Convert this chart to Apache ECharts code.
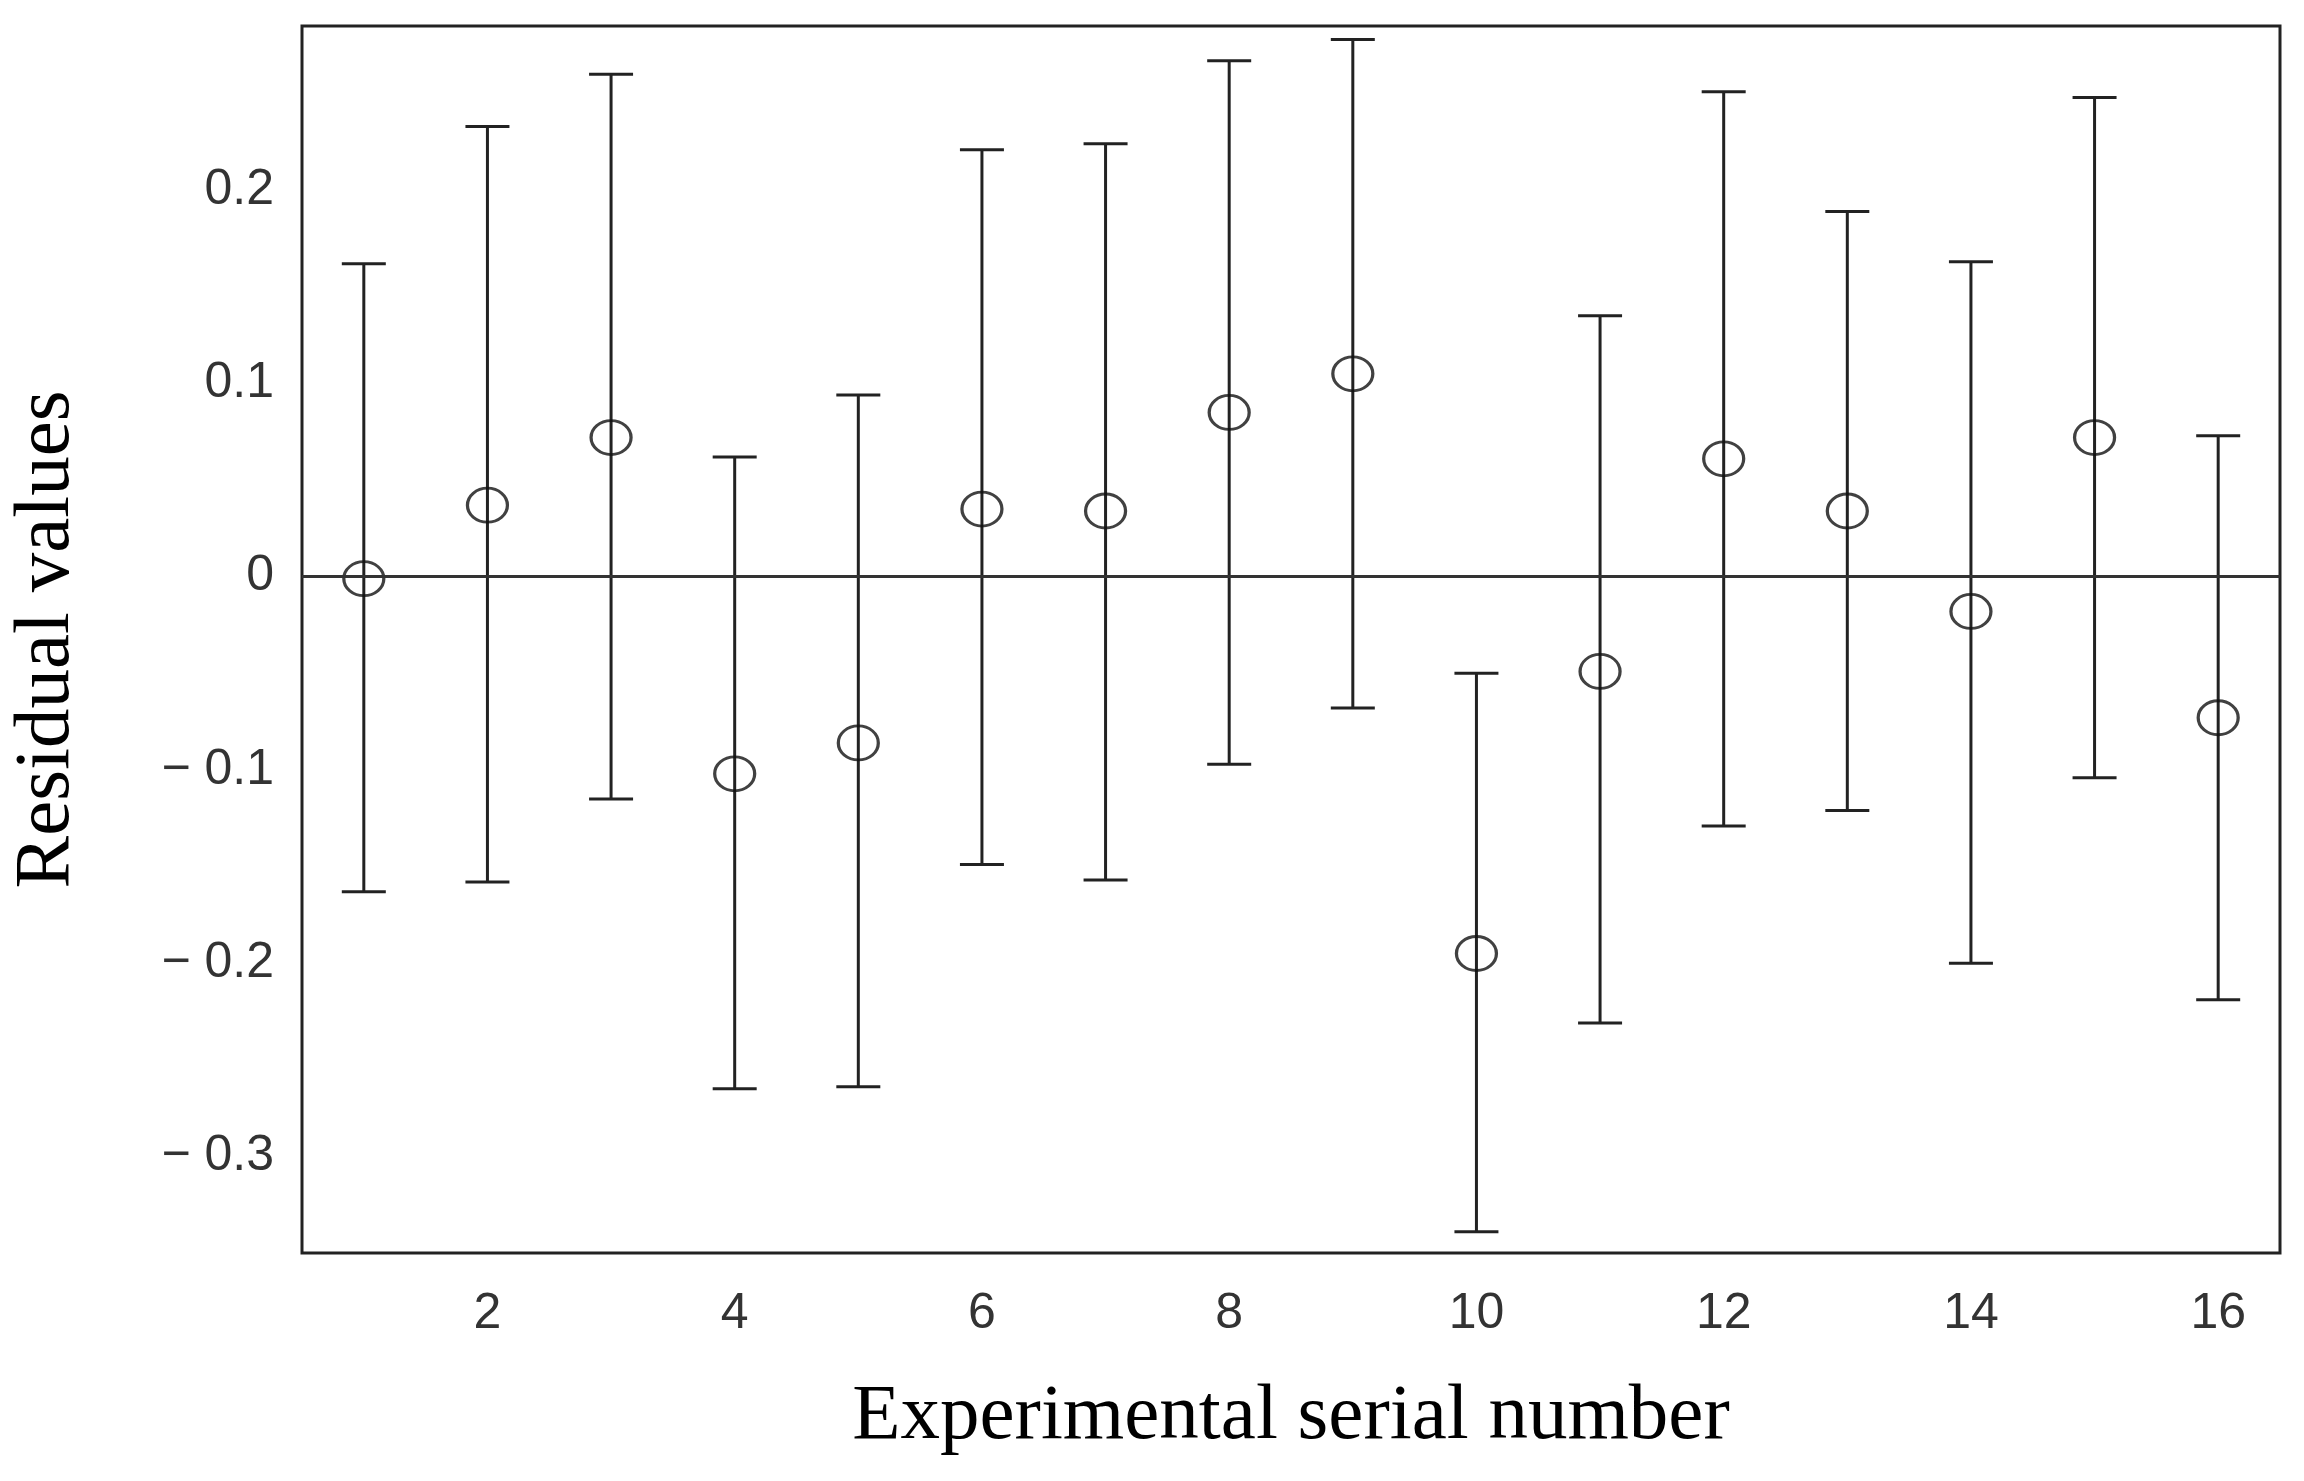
<!DOCTYPE html>
<html><head><meta charset="utf-8">
<script src="https://cdn.jsdelivr.net/npm/echarts@6/dist/echarts.min.js"></script>
<style>html,body{margin:0;padding:0;background:#fff}#c{width:2304px;height:1481px}</style>
</head><body><div id="c"></div>
<script>
const experiments = [1,2,3,4,5,6,7,8,9,10,11,12,13,14,15,16];
const residuals = [-0.001,0.037,0.072,-0.102,-0.086,0.035,0.034,0.085,0.105,-0.195,-0.049,0.061,0.034,-0.018,0.072,-0.073];
const upperCI = [0.162,0.233,0.260,0.062,0.094,0.221,0.224,0.267,0.278,-0.050,0.135,0.251,0.189,0.163,0.248,0.073];
const lowerCI = [-0.163,-0.158,-0.115,-0.265,-0.264,-0.149,-0.157,-0.097,-0.068,-0.339,-0.231,-0.129,-0.121,-0.200,-0.104,-0.219];

const chart = echarts.init(document.getElementById('c'));
const errData = experiments.map((x,i)=>[x, lowerCI[i], upperCI[i]]);
chart.setOption({
  animation:false,
  grid:{left:301,right:24,top:26,bottom:228,show:true,borderColor:'#222',borderWidth:3,backgroundColor:'transparent'},
  xAxis:{type:'value',min:0.5,max:16.5,interval:0.5,
    axisLine:{show:false},axisTick:{show:false},splitLine:{show:false},
    axisLabel:{margin:36,fontSize:50,color:'#333',fontFamily:'Liberation Sans',
      formatter:v=>{const r=Math.round(v*2);return (r%4===0&&r>0)?String(r/2):'';}},
    name:'Experimental serial number',nameLocation:'middle',nameGap:125,
    nameTextStyle:{fontFamily:'Liberation Serif',fontSize:79,color:'#000'}},
  yAxis:{type:'value',min:-0.35,max:0.285,interval:0.05,
    axisLine:{show:false},axisTick:{show:false},splitLine:{show:false},
    axisLabel:{margin:28,fontSize:50,color:'#333',fontFamily:'Liberation Sans',showMaxLabel:false,
      formatter:v=>{const r=Math.round(v*100);if(r%10!==0)return '';const t=Math.abs(r/100).toString();return r<0?'\u2212 '+t:t;}},
    name:'Residual values',nameLocation:'middle',nameGap:215,
    nameTextStyle:{fontFamily:'Liberation Serif',fontSize:79,color:'#000'}},
  series:[
    {type:'custom',data:errData,z:2,
     renderItem:(p,api)=>{
       const x=api.value(0),lo=api.coord([x,api.value(1)]),hi=api.coord([x,api.value(2)]);
       const hw=22, st={stroke:'#222',lineWidth:3};
       return {type:'group',children:[
         {type:'line',shape:{x1:lo[0],y1:lo[1],x2:hi[0],y2:hi[1]},style:st},
         {type:'line',shape:{x1:lo[0]-hw,y1:lo[1],x2:lo[0]+hw,y2:lo[1]},style:st},
         {type:'line',shape:{x1:hi[0]-hw,y1:hi[1],x2:hi[0]+hw,y2:hi[1]},style:st}]};
     }},
    {type:'scatter',data:experiments.map((x,i)=>[x,residuals[i]]),symbol:'circle',symbolSize:[40,34],z:3,
     itemStyle:{color:'rgba(255,255,255,0)',borderColor:'#111',borderWidth:3},
     markLine:{silent:true,symbol:'none',label:{show:false},lineStyle:{color:'#333',width:3,type:'solid'},data:[{yAxis:0}]}}
  ]
});
</script></body></html>
